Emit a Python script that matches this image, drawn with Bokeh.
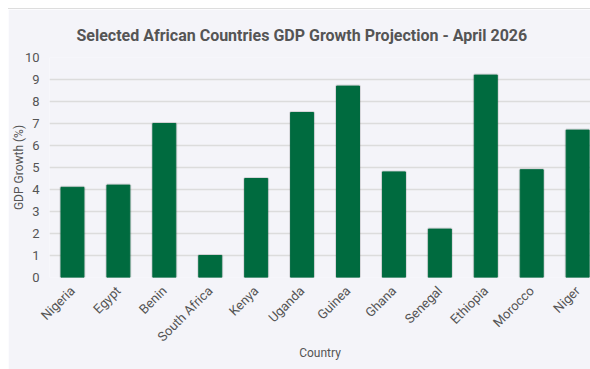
import math
from bokeh.plotting import figure
from bokeh.models import Range1d, FixedTicker, Title
from bokeh.embed import file_html
from bokeh.resources import INLINE

countries = ["Nigeria", "Egypt", "Benin", "South Africa", "Kenya", "Uganda",
             "Guinea", "Ghana", "Senegal", "Ethiopia", "Morocco", "Niger"]
growth = [4.1, 4.2, 7.0, 1.0, 4.5, 7.5, 8.7, 4.8, 2.2, 9.2, 4.9, 6.7]
y_ticks = [0, 1, 2, 3, 4, 5, 6, 7, 8, 9, 10]

xs = list(range(len(countries)))
FONT = "Roboto"
BG = "#f4f4f9"

p = figure(width=582, height=361, output_backend="svg", toolbar_location=None,
           x_range=Range1d(-0.5, 11.28), y_range=Range1d(0, 10),
           title="Selected African Countries GDP Growth Projection - April 2026",
           min_border_left=39, min_border_right=0, min_border_top=48, min_border_bottom=10)
p.background_fill_color = BG
p.border_fill_color = BG
p.outline_line_color = None
p.styles = {"border-top": "1px solid #dddddd", "margin-left": "8px", "margin-top": "8px"}

p.title.align = "left"
p.title.vertical_align = "top"
p.title.offset = 27
p.title.standoff = 22
p.title.text_font = FONT
p.title.text_font_size = "16px"
p.title.text_font_style = "bold"
p.title.text_color = "#555555"

# shadow and bars
p.vbar(x=xs, top=growth, width=0.5, bottom=0, fill_color=None,
       line_color="#000000", line_alpha=0.12, line_width=3)
p.vbar(x=xs, top=growth, width=0.5, bottom=0, fill_color="#006b3f",
       line_color="#006b3f", line_width=1)

p.xaxis.ticker = FixedTicker(ticks=xs)
p.xaxis.major_label_overrides = {i: c for i, c in enumerate(countries)}
p.xaxis.major_label_orientation = math.pi / 4
p.yaxis.ticker = FixedTicker(ticks=y_ticks)

for ax in (p.xaxis, p.yaxis):
    ax.axis_line_color = None
    ax.major_tick_line_color = None
    ax.minor_tick_line_color = None
    ax.major_tick_out = 0
    ax.major_tick_in = 0
    ax.major_label_text_font = FONT
    ax.major_label_text_font_size = "13px"
    ax.major_label_text_color = "#555555"
    ax.axis_label_text_font = FONT
    ax.axis_label_text_font_size = "12px"
    ax.axis_label_text_font_style = "normal"
    ax.axis_label_text_color = "#555555"

p.xaxis.axis_label = "Country"
p.yaxis.axis_label = "GDP Growth (%)"
p.xaxis.major_label_standoff = 11
p.yaxis.major_label_standoff = 10
p.yaxis.axis_label_standoff = -4
p.xaxis.axis_label_standoff = -7

# empty spacer below the axis label
p.add_layout(Title(text=" ", text_font_size="1px", standoff=5), "below")

p.xgrid.grid_line_color = None
p.ygrid.grid_line_color = "#dcdcdc"
p.ygrid.grid_line_width = 1.5

open("out.html", "w").write(file_html(p, INLINE))
